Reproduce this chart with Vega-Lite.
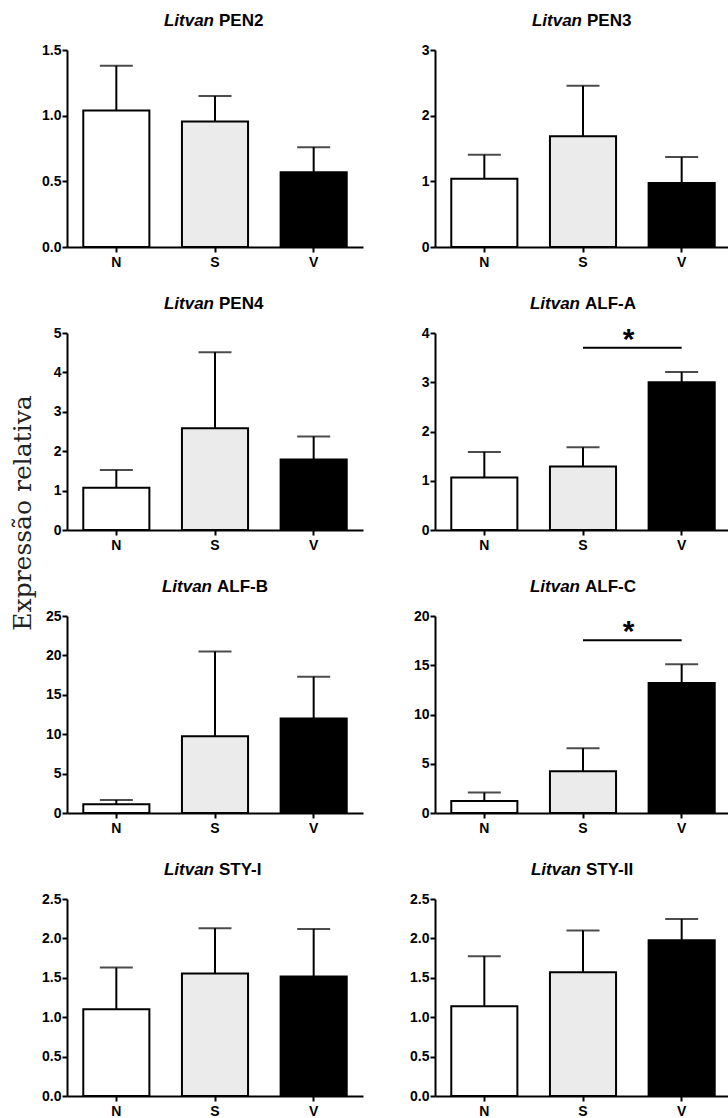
{
  "$schema": "https://vega.github.io/schema/vega-lite/v6.json",
  "background": "white",
  "padding": {"left": 10, "top": 12, "right": 0, "bottom": 0},
  "title": {"text": "Expressão relativa", "orient": "left", "anchor": "middle", "font": "DejaVu Serif", "fontSize": 25, "fontWeight": "normal", "color": "#222222", "dx": 52, "offset": 6},
  "datasets": {
    "bars": [
      {"gene": "PEN2", "group": "N", "mean": 1.04, "upper": 1.38},
      {"gene": "PEN2", "group": "S", "mean": 0.955, "upper": 1.15},
      {"gene": "PEN2", "group": "V", "mean": 0.57, "upper": 0.76},
      {"gene": "PEN3", "group": "N", "mean": 1.04, "upper": 1.405},
      {"gene": "PEN3", "group": "S", "mean": 1.685, "upper": 2.455},
      {"gene": "PEN3", "group": "V", "mean": 0.975, "upper": 1.37},
      {"gene": "PEN4", "group": "N", "mean": 1.07, "upper": 1.525},
      {"gene": "PEN4", "group": "S", "mean": 2.585, "upper": 4.51},
      {"gene": "PEN4", "group": "V", "mean": 1.79, "upper": 2.375},
      {"gene": "ALF-A", "group": "N", "mean": 1.065, "upper": 1.585},
      {"gene": "ALF-A", "group": "S", "mean": 1.29, "upper": 1.68},
      {"gene": "ALF-A", "group": "V", "mean": 3.0, "upper": 3.21},
      {"gene": "ALF-B", "group": "N", "mean": 1.1, "upper": 1.65},
      {"gene": "ALF-B", "group": "S", "mean": 9.75, "upper": 20.5},
      {"gene": "ALF-B", "group": "V", "mean": 12.0, "upper": 17.3},
      {"gene": "ALF-C", "group": "N", "mean": 1.22, "upper": 2.07},
      {"gene": "ALF-C", "group": "S", "mean": 4.24, "upper": 6.58},
      {"gene": "ALF-C", "group": "V", "mean": 13.2, "upper": 15.1},
      {"gene": "STY-I", "group": "N", "mean": 1.1, "upper": 1.63},
      {"gene": "STY-I", "group": "S", "mean": 1.555, "upper": 2.13},
      {"gene": "STY-I", "group": "V", "mean": 1.515, "upper": 2.12},
      {"gene": "STY-II", "group": "N", "mean": 1.14, "upper": 1.775},
      {"gene": "STY-II", "group": "S", "mean": 1.57, "upper": 2.1},
      {"gene": "STY-II", "group": "V", "mean": 1.975, "upper": 2.245}
    ],
    "sig": [
      {"gene": "ALF-A", "from": "S", "to": "V", "y": 3.7, "label": "*"},
      {"gene": "ALF-C", "from": "S", "to": "V", "y": 17.55, "label": "*"}
    ]
  },
  "data": {"name": "bars"},
  "columns": 2,
  "spacing": {"row": 86, "column": 72},
  "bounds": "flush",
  "concat": [
    {
      "width": 296, "height": 197,
      "transform": [{"filter": "datum.gene == 'PEN2'"}],
      "encoding": {
        "x": {"field": "group", "type": "nominal", "scale": {"domain": ["N", "S", "V"], "paddingInner": 0.33, "paddingOuter": 0.165}, "axis": {"title": null}},
        "y": {"type": "quantitative", "scale": {"domain": [0, 1.5], "nice": false}, "axis": {"title": null, "values": [0, 0.5, 1, 1.5], "format": ".1f"}}
      },
      "layer": [
        {"mark": {"type": "bar", "stroke": "black", "strokeWidth": 2}, "encoding": {"y": {"field": "mean", "type": "quantitative"}, "fill": {"field": "group", "type": "nominal", "scale": {"domain": ["N", "S", "V"], "range": ["#ffffff", "#ebebeb", "#000000"]}, "legend": null}}},
        {"mark": {"type": "rule", "color": "black", "strokeWidth": 2}, "encoding": {"y": {"field": "mean", "type": "quantitative"}, "y2": {"field": "upper"}}},
        {"mark": {"type": "tick", "color": "black", "thickness": 2, "size": 33}, "encoding": {"y": {"field": "upper", "type": "quantitative"}}},
        {"transform": [{"filter": "datum.group == 'S'"}], "mark": {"type": "text", "align": "right", "baseline": "alphabetic", "font": "Liberation Sans", "fontSize": 17, "fontWeight": "bold", "fontStyle": "italic", "dx": -1, "dy": -24, "color": "black"}, "encoding": {"y": {"datum": 1.5}, "text": {"value": "Litvan"}}},
        {"transform": [{"filter": "datum.group == 'S'"}], "mark": {"type": "text", "align": "left", "baseline": "alphabetic", "font": "Liberation Sans", "fontSize": 17, "fontWeight": "bold", "dx": 4, "dy": -24, "color": "black"}, "encoding": {"y": {"datum": 1.5}, "text": {"field": "gene"}}}
      ]
    },
    {
      "width": 296, "height": 197,
      "transform": [{"filter": "datum.gene == 'PEN3'"}],
      "encoding": {
        "x": {"field": "group", "type": "nominal", "scale": {"domain": ["N", "S", "V"], "paddingInner": 0.33, "paddingOuter": 0.165}, "axis": {"title": null}},
        "y": {"type": "quantitative", "scale": {"domain": [0, 3], "nice": false}, "axis": {"title": null, "values": [0, 1, 2, 3], "format": "d"}}
      },
      "layer": [
        {"mark": {"type": "bar", "stroke": "black", "strokeWidth": 2}, "encoding": {"y": {"field": "mean", "type": "quantitative"}, "fill": {"field": "group", "type": "nominal", "scale": {"domain": ["N", "S", "V"], "range": ["#ffffff", "#ebebeb", "#000000"]}, "legend": null}}},
        {"mark": {"type": "rule", "color": "black", "strokeWidth": 2}, "encoding": {"y": {"field": "mean", "type": "quantitative"}, "y2": {"field": "upper"}}},
        {"mark": {"type": "tick", "color": "black", "thickness": 2, "size": 33}, "encoding": {"y": {"field": "upper", "type": "quantitative"}}},
        {"transform": [{"filter": "datum.group == 'S'"}], "mark": {"type": "text", "align": "right", "baseline": "alphabetic", "font": "Liberation Sans", "fontSize": 17, "fontWeight": "bold", "fontStyle": "italic", "dx": -1, "dy": -24, "color": "black"}, "encoding": {"y": {"datum": 3}, "text": {"value": "Litvan"}}},
        {"transform": [{"filter": "datum.group == 'S'"}], "mark": {"type": "text", "align": "left", "baseline": "alphabetic", "font": "Liberation Sans", "fontSize": 17, "fontWeight": "bold", "dx": 4, "dy": -24, "color": "black"}, "encoding": {"y": {"datum": 3}, "text": {"field": "gene"}}}
      ]
    },
    {
      "width": 296, "height": 197,
      "transform": [{"filter": "datum.gene == 'PEN4'"}],
      "encoding": {
        "x": {"field": "group", "type": "nominal", "scale": {"domain": ["N", "S", "V"], "paddingInner": 0.33, "paddingOuter": 0.165}, "axis": {"title": null}},
        "y": {"type": "quantitative", "scale": {"domain": [0, 5], "nice": false}, "axis": {"title": null, "values": [0, 1, 2, 3, 4, 5], "format": "d"}}
      },
      "layer": [
        {"mark": {"type": "bar", "stroke": "black", "strokeWidth": 2}, "encoding": {"y": {"field": "mean", "type": "quantitative"}, "fill": {"field": "group", "type": "nominal", "scale": {"domain": ["N", "S", "V"], "range": ["#ffffff", "#ebebeb", "#000000"]}, "legend": null}}},
        {"mark": {"type": "rule", "color": "black", "strokeWidth": 2}, "encoding": {"y": {"field": "mean", "type": "quantitative"}, "y2": {"field": "upper"}}},
        {"mark": {"type": "tick", "color": "black", "thickness": 2, "size": 33}, "encoding": {"y": {"field": "upper", "type": "quantitative"}}},
        {"transform": [{"filter": "datum.group == 'S'"}], "mark": {"type": "text", "align": "right", "baseline": "alphabetic", "font": "Liberation Sans", "fontSize": 17, "fontWeight": "bold", "fontStyle": "italic", "dx": -1, "dy": -24, "color": "black"}, "encoding": {"y": {"datum": 5}, "text": {"value": "Litvan"}}},
        {"transform": [{"filter": "datum.group == 'S'"}], "mark": {"type": "text", "align": "left", "baseline": "alphabetic", "font": "Liberation Sans", "fontSize": 17, "fontWeight": "bold", "dx": 4, "dy": -24, "color": "black"}, "encoding": {"y": {"datum": 5}, "text": {"field": "gene"}}}
      ]
    },
    {
      "width": 296, "height": 197,
      "transform": [{"filter": "datum.gene == 'ALF-A'"}],
      "encoding": {
        "x": {"field": "group", "type": "nominal", "scale": {"domain": ["N", "S", "V"], "paddingInner": 0.33, "paddingOuter": 0.165}, "axis": {"title": null}},
        "y": {"type": "quantitative", "scale": {"domain": [0, 4], "nice": false}, "axis": {"title": null, "values": [0, 1, 2, 3, 4], "format": "d"}}
      },
      "layer": [
        {"mark": {"type": "bar", "stroke": "black", "strokeWidth": 2}, "encoding": {"y": {"field": "mean", "type": "quantitative"}, "fill": {"field": "group", "type": "nominal", "scale": {"domain": ["N", "S", "V"], "range": ["#ffffff", "#ebebeb", "#000000"]}, "legend": null}}},
        {"mark": {"type": "rule", "color": "black", "strokeWidth": 2}, "encoding": {"y": {"field": "mean", "type": "quantitative"}, "y2": {"field": "upper"}}},
        {"mark": {"type": "tick", "color": "black", "thickness": 2, "size": 33}, "encoding": {"y": {"field": "upper", "type": "quantitative"}}},
        {"transform": [{"filter": "datum.group == 'S'"}], "mark": {"type": "text", "align": "right", "baseline": "alphabetic", "font": "Liberation Sans", "fontSize": 17, "fontWeight": "bold", "fontStyle": "italic", "dx": -3, "dy": -24, "color": "black"}, "encoding": {"y": {"datum": 4}, "text": {"value": "Litvan"}}},
        {"transform": [{"filter": "datum.group == 'S'"}], "mark": {"type": "text", "align": "left", "baseline": "alphabetic", "font": "Liberation Sans", "fontSize": 17, "fontWeight": "bold", "dx": 2, "dy": -24, "color": "black"}, "encoding": {"y": {"datum": 4}, "text": {"field": "gene"}}},
        {"data": {"name": "sig"}, "transform": [{"filter": "datum.gene == 'ALF-A'"}], "mark": {"type": "rule", "color": "black", "strokeWidth": 2}, "encoding": {"x": {"field": "from", "type": "nominal"}, "x2": {"field": "to"}, "y": {"field": "y", "type": "quantitative"}}},
        {"data": {"name": "sig"}, "transform": [{"filter": "datum.gene == 'ALF-A'"}], "mark": {"type": "text", "align": "center", "baseline": "alphabetic", "font": "Liberation Sans", "fontSize": 30, "fontWeight": "bold", "color": "black", "dy": 1}, "encoding": {"x": {"field": "from", "type": "nominal", "bandPosition": 1.19}, "y": {"field": "y", "type": "quantitative"}, "text": {"field": "label"}}}
      ]
    },
    {
      "width": 296, "height": 197,
      "transform": [{"filter": "datum.gene == 'ALF-B'"}],
      "encoding": {
        "x": {"field": "group", "type": "nominal", "scale": {"domain": ["N", "S", "V"], "paddingInner": 0.33, "paddingOuter": 0.165}, "axis": {"title": null}},
        "y": {"type": "quantitative", "scale": {"domain": [0, 25], "nice": false}, "axis": {"title": null, "values": [0, 5, 10, 15, 20, 25], "format": "d"}}
      },
      "layer": [
        {"mark": {"type": "bar", "stroke": "black", "strokeWidth": 2}, "encoding": {"y": {"field": "mean", "type": "quantitative"}, "fill": {"field": "group", "type": "nominal", "scale": {"domain": ["N", "S", "V"], "range": ["#ffffff", "#ebebeb", "#000000"]}, "legend": null}}},
        {"mark": {"type": "rule", "color": "black", "strokeWidth": 2}, "encoding": {"y": {"field": "mean", "type": "quantitative"}, "y2": {"field": "upper"}}},
        {"mark": {"type": "tick", "color": "black", "thickness": 2, "size": 33}, "encoding": {"y": {"field": "upper", "type": "quantitative"}}},
        {"transform": [{"filter": "datum.group == 'S'"}], "mark": {"type": "text", "align": "right", "baseline": "alphabetic", "font": "Liberation Sans", "fontSize": 17, "fontWeight": "bold", "fontStyle": "italic", "dx": -3, "dy": -24, "color": "black"}, "encoding": {"y": {"datum": 25}, "text": {"value": "Litvan"}}},
        {"transform": [{"filter": "datum.group == 'S'"}], "mark": {"type": "text", "align": "left", "baseline": "alphabetic", "font": "Liberation Sans", "fontSize": 17, "fontWeight": "bold", "dx": 2, "dy": -24, "color": "black"}, "encoding": {"y": {"datum": 25}, "text": {"field": "gene"}}}
      ]
    },
    {
      "width": 296, "height": 197,
      "transform": [{"filter": "datum.gene == 'ALF-C'"}],
      "encoding": {
        "x": {"field": "group", "type": "nominal", "scale": {"domain": ["N", "S", "V"], "paddingInner": 0.33, "paddingOuter": 0.165}, "axis": {"title": null}},
        "y": {"type": "quantitative", "scale": {"domain": [0, 20], "nice": false}, "axis": {"title": null, "values": [0, 5, 10, 15, 20], "format": "d"}}
      },
      "layer": [
        {"mark": {"type": "bar", "stroke": "black", "strokeWidth": 2}, "encoding": {"y": {"field": "mean", "type": "quantitative"}, "fill": {"field": "group", "type": "nominal", "scale": {"domain": ["N", "S", "V"], "range": ["#ffffff", "#ebebeb", "#000000"]}, "legend": null}}},
        {"mark": {"type": "rule", "color": "black", "strokeWidth": 2}, "encoding": {"y": {"field": "mean", "type": "quantitative"}, "y2": {"field": "upper"}}},
        {"mark": {"type": "tick", "color": "black", "thickness": 2, "size": 33}, "encoding": {"y": {"field": "upper", "type": "quantitative"}}},
        {"transform": [{"filter": "datum.group == 'S'"}], "mark": {"type": "text", "align": "right", "baseline": "alphabetic", "font": "Liberation Sans", "fontSize": 17, "fontWeight": "bold", "fontStyle": "italic", "dx": -3, "dy": -24, "color": "black"}, "encoding": {"y": {"datum": 20}, "text": {"value": "Litvan"}}},
        {"transform": [{"filter": "datum.group == 'S'"}], "mark": {"type": "text", "align": "left", "baseline": "alphabetic", "font": "Liberation Sans", "fontSize": 17, "fontWeight": "bold", "dx": 2, "dy": -24, "color": "black"}, "encoding": {"y": {"datum": 20}, "text": {"field": "gene"}}},
        {"data": {"name": "sig"}, "transform": [{"filter": "datum.gene == 'ALF-C'"}], "mark": {"type": "rule", "color": "black", "strokeWidth": 2}, "encoding": {"x": {"field": "from", "type": "nominal"}, "x2": {"field": "to"}, "y": {"field": "y", "type": "quantitative"}}},
        {"data": {"name": "sig"}, "transform": [{"filter": "datum.gene == 'ALF-C'"}], "mark": {"type": "text", "align": "center", "baseline": "alphabetic", "font": "Liberation Sans", "fontSize": 30, "fontWeight": "bold", "color": "black", "dy": 1}, "encoding": {"x": {"field": "from", "type": "nominal", "bandPosition": 1.19}, "y": {"field": "y", "type": "quantitative"}, "text": {"field": "label"}}}
      ]
    },
    {
      "width": 296, "height": 197,
      "transform": [{"filter": "datum.gene == 'STY-I'"}],
      "encoding": {
        "x": {"field": "group", "type": "nominal", "scale": {"domain": ["N", "S", "V"], "paddingInner": 0.33, "paddingOuter": 0.165}, "axis": {"title": null}},
        "y": {"type": "quantitative", "scale": {"domain": [0, 2.5], "nice": false}, "axis": {"title": null, "values": [0, 0.5, 1, 1.5, 2, 2.5], "format": ".1f"}}
      },
      "layer": [
        {"mark": {"type": "bar", "stroke": "black", "strokeWidth": 2}, "encoding": {"y": {"field": "mean", "type": "quantitative"}, "fill": {"field": "group", "type": "nominal", "scale": {"domain": ["N", "S", "V"], "range": ["#ffffff", "#ebebeb", "#000000"]}, "legend": null}}},
        {"mark": {"type": "rule", "color": "black", "strokeWidth": 2}, "encoding": {"y": {"field": "mean", "type": "quantitative"}, "y2": {"field": "upper"}}},
        {"mark": {"type": "tick", "color": "black", "thickness": 2, "size": 33}, "encoding": {"y": {"field": "upper", "type": "quantitative"}}},
        {"transform": [{"filter": "datum.group == 'S'"}], "mark": {"type": "text", "align": "right", "baseline": "alphabetic", "font": "Liberation Sans", "fontSize": 17, "fontWeight": "bold", "fontStyle": "italic", "dx": -1, "dy": -24, "color": "black"}, "encoding": {"y": {"datum": 2.5}, "text": {"value": "Litvan"}}},
        {"transform": [{"filter": "datum.group == 'S'"}], "mark": {"type": "text", "align": "left", "baseline": "alphabetic", "font": "Liberation Sans", "fontSize": 17, "fontWeight": "bold", "dx": 4, "dy": -24, "color": "black"}, "encoding": {"y": {"datum": 2.5}, "text": {"field": "gene"}}}
      ]
    },
    {
      "width": 296, "height": 197,
      "transform": [{"filter": "datum.gene == 'STY-II'"}],
      "encoding": {
        "x": {"field": "group", "type": "nominal", "scale": {"domain": ["N", "S", "V"], "paddingInner": 0.33, "paddingOuter": 0.165}, "axis": {"title": null}},
        "y": {"type": "quantitative", "scale": {"domain": [0, 2.5], "nice": false}, "axis": {"title": null, "values": [0, 0.5, 1, 1.5, 2, 2.5], "format": ".1f"}}
      },
      "layer": [
        {"mark": {"type": "bar", "stroke": "black", "strokeWidth": 2}, "encoding": {"y": {"field": "mean", "type": "quantitative"}, "fill": {"field": "group", "type": "nominal", "scale": {"domain": ["N", "S", "V"], "range": ["#ffffff", "#ebebeb", "#000000"]}, "legend": null}}},
        {"mark": {"type": "rule", "color": "black", "strokeWidth": 2}, "encoding": {"y": {"field": "mean", "type": "quantitative"}, "y2": {"field": "upper"}}},
        {"mark": {"type": "tick", "color": "black", "thickness": 2, "size": 33}, "encoding": {"y": {"field": "upper", "type": "quantitative"}}},
        {"transform": [{"filter": "datum.group == 'S'"}], "mark": {"type": "text", "align": "right", "baseline": "alphabetic", "font": "Liberation Sans", "fontSize": 17, "fontWeight": "bold", "fontStyle": "italic", "dx": -2, "dy": -24, "color": "black"}, "encoding": {"y": {"datum": 2.5}, "text": {"value": "Litvan"}}},
        {"transform": [{"filter": "datum.group == 'S'"}], "mark": {"type": "text", "align": "left", "baseline": "alphabetic", "font": "Liberation Sans", "fontSize": 17, "fontWeight": "bold", "dx": 3, "dy": -24, "color": "black"}, "encoding": {"y": {"datum": 2.5}, "text": {"field": "gene"}}}
      ]
    }
  ],
  "config": {
    "view": {"stroke": null},
    "axis": {"domainColor": "black", "domainWidth": 2, "tickColor": "black", "tickWidth": 2, "tickSize": 5, "labelFont": "Liberation Sans", "labelFontWeight": "bold", "labelFontSize": 14, "labelColor": "black", "grid": false},
    "axisY": {"labelPadding": 1},
    "axisX": {"labelPadding": 3, "labelAngle": 0}
  }
}
